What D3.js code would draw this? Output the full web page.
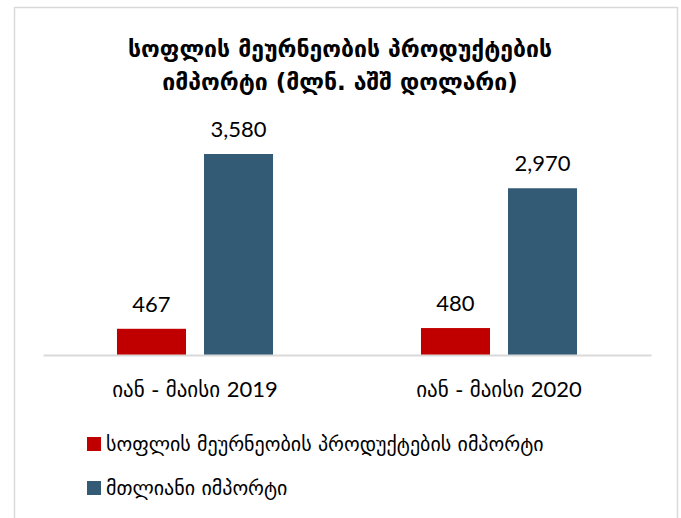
<!DOCTYPE html>
<html><head><meta charset="utf-8">
<script src="https://cdn.jsdelivr.net/npm/d3@7"></script>
<style>body{margin:0;background:#fff}</style>
</head><body>
<script>
const categories = ["იან - მაისი 2019", "იან - მაისი 2020"];
const seriesNames = ["სოფლის მეურნეობის პროდუქტების იმპორტი", "მთლიანი იმპორტი"];
const agriImport = [467, 480];
const totalImport = [3580, 2970];
const titleLines = ["სოფლის მეურნეობის პროდუქტების", "იმპორტი (მლნ. აშშ დოლარი)"];
const colors = ["#C00000", "#345B75"];

const W = 681, H = 518;
const svg = d3.select("body").append("svg").attr("width", W).attr("height", H);
svg.append("rect").attr("x", 0).attr("y", 0).attr("width", W).attr("height", H).attr("fill", "#fff");
svg.append("rect").attr("x", 14.5).attr("y", 7.5).attr("width", 663).attr("height", 520)
  .attr("fill", "#fff").attr("stroke", "#d9d9d9").attr("stroke-width", 1.5);

const geoFont = "'DejaVu Sans', sans-serif";
const numFont = "Lato, 'Open Sans', sans-serif";

svg.selectAll("text.title").data(titleLines).join("text").attr("class", "title")
  .attr("x", 340).attr("y", (d, i) => 57 + i * 33)
  .attr("text-anchor", "middle").attr("font-family", geoFont).attr("font-size", 23)
  .attr("font-weight", "bold").attr("fill", "#000").text(d => d);

const baseY = 355;
const x0 = d3.scaleBand().domain(categories).range([43, 651]).paddingInner(0).paddingOuter(0);
const x1 = d3.scaleBand().domain([0, 1]).range([0, x0.bandwidth()]).paddingInner(0.207).paddingOuter(0.85);
const y = d3.scaleLinear().domain([0, 3580]).range([baseY, 154]);

const data = categories.map((c, i) => ({ c, vals: [agriImport[i], totalImport[i]] }));

const g = svg.append("g");
const groups = g.selectAll("g.grp").data(data).join("g").attr("class", "grp")
  .attr("transform", d => `translate(${x0(d.c)},0)`);
groups.selectAll("rect").data(d => d.vals.map((v, k) => ({ v, k }))).join("rect")
  .attr("x", d => x1(d.k)).attr("width", x1.bandwidth())
  .attr("y", d => y(d.v)).attr("height", d => baseY - y(d.v))
  .attr("fill", d => colors[d.k]);
groups.selectAll("text.val").data(d => d.vals.map((v, k) => ({ v, k }))).join("text").attr("class", "val")
  .attr("x", d => x1(d.k) + x1.bandwidth() / 2).attr("y", d => y(d.v) - 17)
  .attr("text-anchor", "middle").attr("font-family", numFont).attr("font-size", 22)
  .attr("fill", "#000").text(d => d3.format(",")(d.v));

// axis
const ax = svg.append("g").attr("transform", `translate(0,${baseY})`)
  .call(d3.axisBottom(x0).tickSize(0).tickPadding(0));
ax.select(".domain").attr("stroke", "#d9d9d9").attr("stroke-width", 2);
ax.selectAll(".tick text").attr("y", 26).attr("dy", "0.71em").attr("font-family", numFont).attr("font-size", 22).attr("fill", "#000");
ax.selectAll(".tick text").each(function(d) {
  const t = d3.select(this);
  const parts = d.split(" ");
  const yr = parts.pop();
  t.text(null);
  t.append("tspan").attr("font-family", geoFont).attr("font-size", 21).text(parts.join(" ") + " ");
  t.append("tspan").text(yr);
});

// legend
const leg = svg.append("g");
seriesNames.forEach((n, i) => {
  const ly = 444 + i * 44;
  leg.append("rect").attr("x", 87).attr("y", ly - 7).attr("width", 14).attr("height", 14).attr("fill", colors[i]);
  leg.append("text").attr("x", 106).attr("y", ly).attr("dy", "0.35em")
    .attr("font-family", geoFont).attr("font-size", 20).attr("fill", "#000").text(n);
});
</script>
</body></html>
